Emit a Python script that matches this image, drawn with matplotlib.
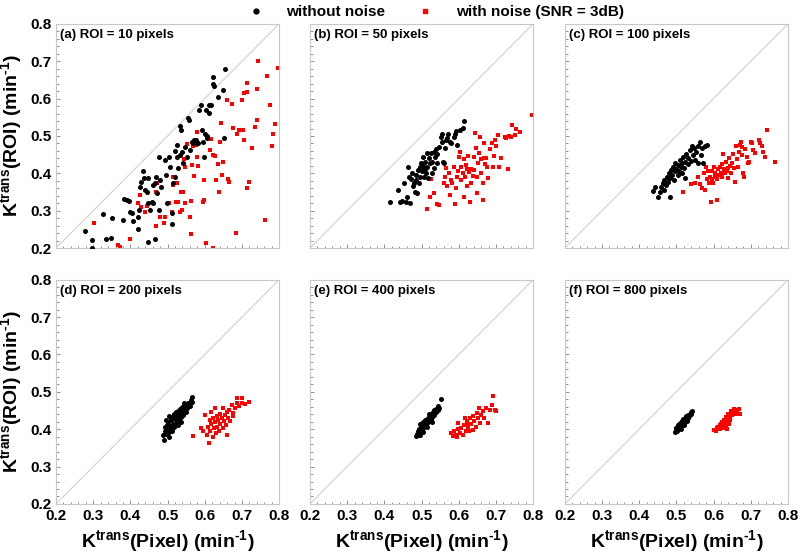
import matplotlib
matplotlib.use('Agg')
import matplotlib.pyplot as plt
from matplotlib.ticker import MultipleLocator
from matplotlib.lines import Line2D

plt.rcParams['font.family'] = ['Liberation Sans', 'DejaVu Sans']
plt.rcParams['mathtext.fontset'] = 'custom'
plt.rcParams['mathtext.rm'] = 'Liberation Sans:bold'
plt.rcParams['mathtext.bf'] = 'Liberation Sans:bold'
plt.rcParams['mathtext.it'] = 'Liberation Sans:bold'

titles = ['(a) ROI = 10 pixels', '(b) ROI = 50 pixels', '(c) ROI = 100 pixels',
          '(d) ROI = 200 pixels', '(e) ROI = 400 pixels', '(f) ROI = 800 pixels']
ticks = [0.2, 0.3, 0.4, 0.5, 0.6, 0.7, 0.8]

# (a) ROI = 10 pixels
a_black_x = [0.278, 0.296, 0.296, 0.327, 0.334, 0.347, 0.351, 0.381, 0.383, 0.390, 0.397, 0.399, 0.403,
             0.408, 0.420, 0.421, 0.424, 0.426, 0.428, 0.435, 0.437, 0.439, 0.444, 0.446, 0.446, 0.448,
             0.453, 0.457, 0.460, 0.462, 0.466, 0.467, 0.469, 0.472, 0.476, 0.478, 0.480, 0.481, 0.493,
             0.496, 0.498, 0.505, 0.506, 0.511, 0.512, 0.515, 0.520, 0.521, 0.524, 0.524, 0.529, 0.532,
             0.533, 0.535, 0.538, 0.542, 0.547, 0.551, 0.556, 0.558, 0.560, 0.565, 0.569, 0.571, 0.575,
             0.578, 0.583, 0.584, 0.589, 0.592, 0.594, 0.598, 0.601, 0.602, 0.605, 0.607, 0.610, 0.612,
             0.618, 0.621, 0.623, 0.625, 0.636, 0.650, 0.652, 0.654]
a_black_y = [0.246, 0.221, 0.201, 0.291, 0.223, 0.227, 0.280, 0.275, 0.332, 0.329, 0.325, 0.297, 0.293,
             0.273, 0.251, 0.282, 0.302, 0.364, 0.378, 0.405, 0.387, 0.356, 0.351, 0.387, 0.217, 0.320,
             0.302, 0.324, 0.369, 0.320, 0.373, 0.223, 0.389, 0.348, 0.302, 0.443, 0.382, 0.364, 0.436,
             0.396, 0.320, 0.443, 0.418, 0.264, 0.293, 0.373, 0.391, 0.461, 0.476, 0.445, 0.414, 0.527,
             0.449, 0.515, 0.458, 0.427, 0.470, 0.443, 0.548, 0.543, 0.463, 0.485, 0.481, 0.488, 0.488,
             0.481, 0.481, 0.570, 0.583, 0.515, 0.483, 0.445, 0.506, 0.570, 0.494, 0.500, 0.561, 0.582,
             0.583, 0.640, 0.657, 0.633, 0.604, 0.624, 0.494, 0.679]
a_red_x = [0.303, 0.368, 0.372, 0.399, 0.421, 0.426, 0.428, 0.439, 0.444, 0.470, 0.469, 0.471, 0.480,
           0.489, 0.493, 0.504, 0.511, 0.514, 0.515, 0.522, 0.524, 0.529, 0.532, 0.535, 0.538, 0.542,
           0.544, 0.547, 0.548, 0.551, 0.560, 0.562, 0.563, 0.565, 0.569, 0.571, 0.575, 0.578, 0.578,
           0.583, 0.596, 0.598, 0.598, 0.603, 0.605, 0.614, 0.618, 0.621, 0.623, 0.627, 0.630, 0.636,
           0.639, 0.641, 0.644, 0.645, 0.650, 0.661, 0.663, 0.666, 0.672, 0.675, 0.684, 0.687, 0.692,
           0.699, 0.702, 0.705, 0.705, 0.713, 0.713, 0.714, 0.719, 0.726, 0.735, 0.739, 0.741, 0.744,
           0.762, 0.768, 0.774, 0.780, 0.782, 0.789, 0.798]
a_red_y = [0.266, 0.208, 0.202, 0.223, 0.320, 0.341, 0.309, 0.297, 0.313, 0.259, 0.351, 0.375, 0.284,
           0.266, 0.284, 0.320, 0.297, 0.389, 0.369, 0.322, 0.375, 0.324, 0.297, 0.351, 0.302, 0.351,
           0.438, 0.418, 0.320, 0.479, 0.284, 0.237, 0.327, 0.422, 0.472, 0.393, 0.476, 0.511, 0.443,
           0.420, 0.322, 0.329, 0.382, 0.213, 0.495, 0.463, 0.492, 0.201, 0.449, 0.446, 0.382, 0.424,
           0.351, 0.483, 0.536, 0.396, 0.431, 0.597, 0.384, 0.378, 0.586, 0.521, 0.241, 0.506, 0.515,
           0.597, 0.515, 0.616, 0.488, 0.643, 0.618, 0.360, 0.378, 0.467, 0.523, 0.627, 0.543, 0.700,
           0.275, 0.661, 0.583, 0.472, 0.506, 0.532, 0.683]

# (b) ROI = 50 pixels
b_black_x = [0.416, 0.436, 0.443, 0.448, 0.452, 0.457, 0.461, 0.463, 0.466, 0.468, 0.472, 0.475, 0.477,
             0.479, 0.481, 0.484, 0.486, 0.488, 0.490, 0.493, 0.495, 0.497, 0.499, 0.501, 0.503, 0.505,
             0.506, 0.508, 0.510, 0.512, 0.514, 0.515, 0.517, 0.520, 0.523, 0.524, 0.527, 0.529, 0.532,
             0.533, 0.535, 0.538, 0.541, 0.542, 0.547, 0.551, 0.554, 0.556, 0.557, 0.560, 0.562, 0.565,
             0.568, 0.571, 0.577, 0.580, 0.586, 0.589, 0.593, 0.596, 0.604, 0.610, 0.614]
b_black_y = [0.323, 0.355, 0.324, 0.327, 0.373, 0.322, 0.338, 0.416, 0.391, 0.320, 0.384, 0.402, 0.366,
             0.373, 0.351, 0.396, 0.382, 0.348, 0.409, 0.373, 0.418, 0.391, 0.427, 0.405, 0.445, 0.420,
             0.391, 0.411, 0.431, 0.402, 0.454, 0.418, 0.387, 0.440, 0.427, 0.454, 0.400, 0.431, 0.458,
             0.414, 0.445, 0.464, 0.427, 0.452, 0.471, 0.498, 0.506, 0.485, 0.431, 0.427, 0.469, 0.489,
             0.494, 0.506, 0.485, 0.481, 0.498, 0.506, 0.512, 0.476, 0.516, 0.521, 0.540]
b_red_x = [0.514, 0.523, 0.524, 0.533, 0.542, 0.547, 0.560, 0.562, 0.565, 0.569, 0.574, 0.577, 0.580,
           0.583, 0.587, 0.589, 0.592, 0.596, 0.598, 0.601, 0.604, 0.605, 0.607, 0.610, 0.613, 0.614,
           0.616, 0.619, 0.622, 0.623, 0.625, 0.628, 0.631, 0.632, 0.634, 0.637, 0.640, 0.641, 0.643,
           0.646, 0.649, 0.650, 0.652, 0.655, 0.658, 0.659, 0.661, 0.664, 0.665, 0.667, 0.668, 0.670,
           0.673, 0.677, 0.679, 0.685, 0.688, 0.691, 0.694, 0.697, 0.700, 0.705, 0.709, 0.714, 0.723,
           0.727, 0.732, 0.736, 0.741, 0.742, 0.750, 0.755, 0.765, 0.797]
b_red_y = [0.304, 0.338, 0.384, 0.348, 0.318, 0.315, 0.373, 0.391, 0.414, 0.366, 0.400, 0.342, 0.382,
           0.373, 0.418, 0.318, 0.360, 0.391, 0.407, 0.445, 0.456, 0.382, 0.418, 0.400, 0.338, 0.438,
           0.391, 0.422, 0.366, 0.411, 0.447, 0.404, 0.324, 0.411, 0.373, 0.393, 0.445, 0.409, 0.507,
           0.467, 0.348, 0.389, 0.429, 0.454, 0.497, 0.400, 0.438, 0.373, 0.329, 0.440, 0.481, 0.425,
           0.440, 0.418, 0.387, 0.464, 0.481, 0.418, 0.447, 0.488, 0.472, 0.503, 0.418, 0.440, 0.497,
           0.494, 0.411, 0.500, 0.497, 0.530, 0.503, 0.520, 0.510, 0.557]

# (c) ROI = 100 pixels
c_black_x = [0.437, 0.443, 0.450, 0.455, 0.459, 0.464, 0.467, 0.468, 0.473, 0.476, 0.477, 0.479, 0.482,
             0.483, 0.486, 0.488, 0.491, 0.493, 0.495, 0.497, 0.500, 0.503, 0.505, 0.506, 0.509, 0.512,
             0.514, 0.515, 0.518, 0.521, 0.523, 0.524, 0.527, 0.530, 0.532, 0.536, 0.539, 0.541, 0.545,
             0.548, 0.550, 0.554, 0.557, 0.559, 0.563, 0.566, 0.569, 0.572, 0.577, 0.581]
c_black_y = [0.353, 0.364, 0.338, 0.351, 0.363, 0.373, 0.355, 0.382, 0.369, 0.391, 0.378, 0.400, 0.338,
             0.387, 0.409, 0.396, 0.418, 0.382, 0.405, 0.427, 0.411, 0.396, 0.422, 0.405, 0.436, 0.418,
             0.400, 0.429, 0.445, 0.414, 0.387, 0.431, 0.452, 0.425, 0.440, 0.463, 0.434, 0.472, 0.449,
             0.467, 0.436, 0.458, 0.472, 0.427, 0.485, 0.449, 0.467, 0.427, 0.472, 0.475]
c_red_x = [0.518, 0.539, 0.550, 0.557, 0.563, 0.569, 0.575, 0.577, 0.579, 0.581, 0.584, 0.587, 0.590,
           0.593, 0.595, 0.596, 0.599, 0.602, 0.604, 0.605, 0.608, 0.610, 0.613, 0.614, 0.617, 0.620,
           0.622, 0.623, 0.626, 0.629, 0.631, 0.632, 0.635, 0.638, 0.640, 0.641, 0.644, 0.647, 0.649,
           0.653, 0.656, 0.658, 0.660, 0.662, 0.665, 0.667, 0.671, 0.674, 0.676, 0.677, 0.680, 0.683,
           0.685, 0.689, 0.692, 0.695, 0.701, 0.704, 0.707, 0.710, 0.721, 0.725, 0.730, 0.734, 0.739,
           0.743, 0.766]
c_red_y = [0.351, 0.372, 0.373, 0.391, 0.372, 0.360, 0.400, 0.355, 0.418, 0.384, 0.405, 0.373, 0.391,
           0.322, 0.384, 0.405, 0.373, 0.418, 0.391, 0.400, 0.384, 0.330, 0.411, 0.396, 0.418, 0.402,
           0.425, 0.391, 0.452, 0.411, 0.400, 0.431, 0.405, 0.414, 0.387, 0.440, 0.420, 0.400, 0.427,
           0.452, 0.414, 0.378, 0.472, 0.438, 0.418, 0.458, 0.476, 0.485, 0.449, 0.470, 0.400, 0.391,
           0.465, 0.445, 0.427, 0.431, 0.485, 0.481, 0.463, 0.454, 0.490, 0.481, 0.472, 0.458, 0.445,
           0.515, 0.431]

# (d) ROI = 200 pixels
d_black_x = [0.487, 0.490, 0.492, 0.494, 0.496, 0.498, 0.500, 0.502, 0.504, 0.506, 0.508, 0.510, 0.512,
             0.514, 0.516, 0.518, 0.520, 0.522, 0.524, 0.526, 0.528, 0.530, 0.532, 0.534, 0.536, 0.538,
             0.540, 0.542, 0.545, 0.548, 0.550, 0.553, 0.556, 0.560, 0.563, 0.566, 0.565, 0.497, 0.505,
             0.513, 0.519, 0.527, 0.535, 0.544, 0.503]
d_black_y = [0.385, 0.372, 0.395, 0.405, 0.388, 0.412, 0.398, 0.420, 0.392, 0.408, 0.425, 0.400, 0.432,
             0.415, 0.440, 0.405, 0.428, 0.445, 0.418, 0.436, 0.450, 0.425, 0.442, 0.455, 0.432, 0.460,
             0.445, 0.438, 0.452, 0.465, 0.447, 0.458, 0.470, 0.462, 0.478, 0.485, 0.472, 0.425, 0.380,
             0.395, 0.412, 0.410, 0.418, 0.470, 0.435]
d_red_x = [0.569, 0.589, 0.594, 0.600, 0.605, 0.609, 0.612, 0.614, 0.615, 0.618, 0.621, 0.623, 0.624,
           0.627, 0.630, 0.632, 0.633, 0.636, 0.639, 0.641, 0.642, 0.645, 0.648, 0.649, 0.651, 0.654,
           0.657, 0.659, 0.660, 0.663, 0.666, 0.668, 0.672, 0.675, 0.677, 0.681, 0.686, 0.687, 0.693,
           0.699, 0.699, 0.708, 0.720, 0.618, 0.627]
d_red_y = [0.383, 0.403, 0.394, 0.437, 0.385, 0.407, 0.362, 0.425, 0.394, 0.413, 0.380, 0.430, 0.403,
           0.419, 0.389, 0.434, 0.407, 0.425, 0.396, 0.440, 0.413, 0.430, 0.458, 0.403, 0.421, 0.439,
           0.412, 0.447, 0.385, 0.430, 0.452, 0.421, 0.465, 0.443, 0.434, 0.456, 0.470, 0.483, 0.461,
           0.483, 0.470, 0.467, 0.472, 0.445, 0.456]

# (e) ROI = 400 pixels
e_black_x = [0.485, 0.488, 0.490, 0.492, 0.494, 0.496, 0.498, 0.500, 0.502, 0.504, 0.506, 0.508, 0.510,
             0.512, 0.514, 0.516, 0.518, 0.520, 0.522, 0.524, 0.526, 0.528, 0.530, 0.533, 0.535, 0.538,
             0.540, 0.543, 0.545, 0.548, 0.553, 0.497, 0.503, 0.509, 0.515, 0.521, 0.527, 0.532, 0.505,
             0.495]
e_black_y = [0.382, 0.388, 0.395, 0.385, 0.400, 0.392, 0.406, 0.398, 0.410, 0.402, 0.415, 0.408, 0.420,
             0.412, 0.424, 0.418, 0.430, 0.422, 0.435, 0.428, 0.440, 0.432, 0.445, 0.438, 0.450, 0.446,
             0.455, 0.452, 0.462, 0.458, 0.480, 0.415, 0.392, 0.425, 0.405, 0.442, 0.420, 0.452, 0.420,
             0.384]
e_red_x = [0.580, 0.585, 0.587, 0.592, 0.595, 0.598, 0.598, 0.603, 0.607, 0.612, 0.613, 0.616, 0.619,
           0.621, 0.623, 0.625, 0.628, 0.630, 0.634, 0.637, 0.639, 0.642, 0.646, 0.648, 0.651, 0.655,
           0.657, 0.661, 0.664, 0.668, 0.673, 0.679, 0.684, 0.688, 0.693, 0.697, 0.701]
e_red_y = [0.390, 0.383, 0.394, 0.385, 0.380, 0.416, 0.400, 0.389, 0.403, 0.385, 0.412, 0.430, 0.394,
           0.422, 0.416, 0.405, 0.394, 0.430, 0.413, 0.398, 0.434, 0.421, 0.407, 0.443, 0.430, 0.456,
           0.416, 0.439, 0.449, 0.430, 0.456, 0.416, 0.452, 0.465, 0.488, 0.452, 0.449]

# (f) ROI = 800 pixels
f_black_x = [0.495, 0.498, 0.500, 0.502, 0.504, 0.506, 0.508, 0.510, 0.511, 0.513, 0.515, 0.516, 0.518,
             0.520, 0.522, 0.524, 0.526, 0.528, 0.530, 0.532, 0.534, 0.536, 0.538, 0.540, 0.543, 0.507,
             0.512, 0.517, 0.521, 0.525, 0.529, 0.503, 0.499]
f_black_y = [0.392, 0.398, 0.402, 0.396, 0.405, 0.410, 0.402, 0.413, 0.408, 0.418, 0.412, 0.422, 0.416,
             0.426, 0.420, 0.430, 0.425, 0.434, 0.430, 0.438, 0.434, 0.442, 0.440, 0.446, 0.450, 0.415,
             0.400, 0.428, 0.412, 0.436, 0.422, 0.410, 0.404]
f_red_x = [0.600, 0.606, 0.612, 0.616, 0.620, 0.624, 0.627, 0.629, 0.632, 0.635, 0.637, 0.640, 0.643,
           0.646, 0.650, 0.656, 0.662, 0.668, 0.670, 0.618, 0.622, 0.630, 0.634, 0.638, 0.641, 0.645,
           0.648, 0.652, 0.610, 0.626, 0.633, 0.639, 0.644, 0.655, 0.660, 0.664]
f_red_y = [0.398, 0.394, 0.405, 0.400, 0.414, 0.403, 0.424, 0.411, 0.432, 0.418, 0.400, 0.441, 0.425,
           0.450, 0.437, 0.455, 0.452, 0.455, 0.442, 0.410, 0.420, 0.420, 0.428, 0.430, 0.415, 0.432,
           0.440, 0.444, 0.402, 0.414, 0.408, 0.422, 0.436, 0.446, 0.440, 0.448]

black = [(a_black_x, a_black_y), (b_black_x, b_black_y), (c_black_x, c_black_y),
         (d_black_x, d_black_y), (e_black_x, e_black_y), (f_black_x, f_black_y)]
red = [(a_red_x, a_red_y), (b_red_x, b_red_y), (c_red_x, c_red_y),
       (d_red_x, d_red_y), (e_red_x, e_red_y), (f_red_x, f_red_y)]

fig = plt.figure(figsize=(8, 5.55), dpi=100)
lefts = [0.07, 0.3875, 0.706]
bottoms = [0.553, 0.092]
w, h = 0.279, 0.404

frame = '#c8c8c8'
xlab = r'K$^{\rm trans}$(Pixel) (min$^{\text{-1}}$)'
ylab = r'K$^{\rm trans}$(ROI) (min$^{\text{-1}}$)'
for i in range(6):
    row, col = divmod(i, 3)
    ax = fig.add_axes([lefts[col], bottoms[row], w, h])
    ax.plot(ticks, ticks, color='#d0d0d0', lw=0.8, zorder=1)
    bx, by = black[i]
    rx, ry = red[i]
    ax.scatter(rx, ry, marker='s', s=9, color='#ff0000', linewidths=0, zorder=2)
    ax.scatter(bx, by, marker='o', s=13, color='black', linewidths=0, zorder=3)
    ax.set_xlim(0.2, 0.8)
    ax.set_ylim(0.2, 0.8)
    ax.xaxis.set_major_locator(MultipleLocator(0.1))
    ax.yaxis.set_major_locator(MultipleLocator(0.1))
    ax.xaxis.set_minor_locator(MultipleLocator(0.02))
    ax.yaxis.set_minor_locator(MultipleLocator(0.02))
    ax.tick_params(which='both', direction='in', color='#808080', width=0.6)
    ax.tick_params(which='major', length=3)
    ax.tick_params(which='minor', length=1.8)
    ax.tick_params(labelsize=11)
    for lab in ax.get_xticklabels() + ax.get_yticklabels():
        lab.set_fontweight('bold')
    for sp in ax.spines.values():
        sp.set_color(frame)
        sp.set_linewidth(0.8)
    ax.text(0.02, 0.975, titles[i], transform=ax.transAxes, ha='left', va='top',
            fontsize=9.5, fontweight='bold')
    if row == 0:
        ax.tick_params(labelbottom=False)
    else:
        ax.set_xlabel(xlab, fontsize=14, fontweight='bold', labelpad=4)
    if col != 0:
        ax.tick_params(labelleft=False)
    else:
        ax.set_ylabel(ylab, fontsize=14, fontweight='bold', labelpad=4)

handles = [Line2D([], [], ls='none', marker='o', ms=3.5, color='black', label='without noise'),
           Line2D([], [], ls='none', marker='s', ms=3, color='#ff0000', label='with noise (SNR = 3dB)')]
fig.legend(handles=handles, loc='upper center', bbox_to_anchor=(0.54, 1.015), ncol=2, frameon=False,
           prop={'weight': 'bold', 'size': 11}, columnspacing=1.6, handletextpad=1.0)

fig.savefig('out.png', dpi=100)
